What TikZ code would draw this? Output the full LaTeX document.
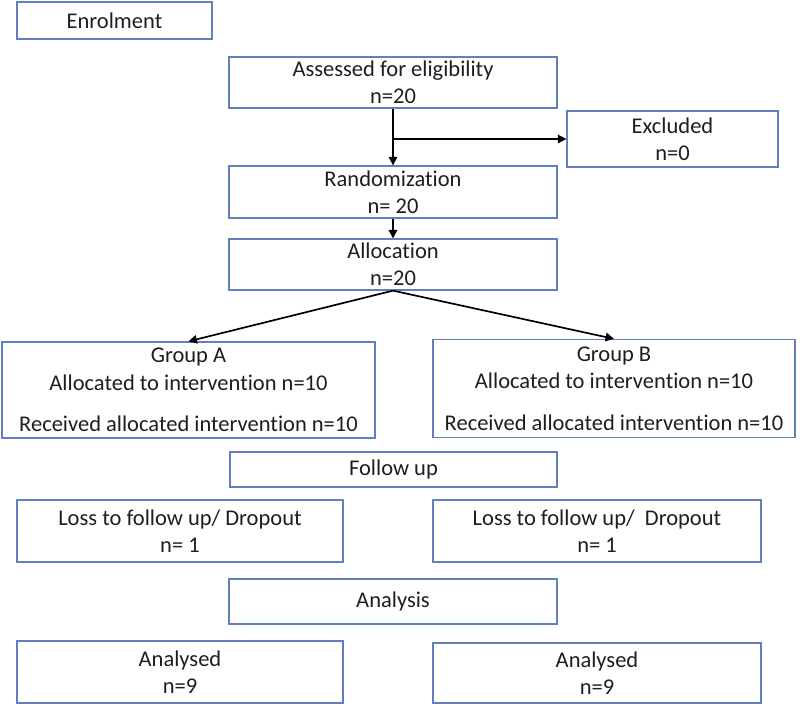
\documentclass[tikz,border=0pt]{standalone}
\usepackage{fontspec}
\setmainfont{Carlito}[Ligatures=NoCommon]
\usetikzlibrary{arrows.meta,positioning}
\definecolor{boxblue}{RGB}{98,128,190}
\definecolor{txtgray}{RGB}{30,30,30}
\tikzset{
	stage/.style={draw=boxblue,line width=0.9pt,align=center,inner sep=0pt,
		text=txtgray,font=\fontsize{16}{19.5}\selectfont},
	flow/.style={line width=1.2pt,-{Triangle[length=6pt,width=6pt]}}
}

\begin{document}
\begin{tikzpicture}[x=0.025cm,y=-0.025cm]
					\useasboundingbox (0,0) rectangle (800,705);
					
					%TOP
					\node[stage,minimum width=4.875cm,minimum height=0.925cm] (enrol) at (114.5,20.5) {Enrolment};
					\node[stage,minimum width=8.2cm,minimum height=1.275cm] (assess) at (393,82.5) {Assessed for eligibility\\n=20};
					\node[stage,minimum width=5.275cm,minimum height=1.4cm] (excl) at (672.5,139) {Excluded\\n=0};
					\node[stage,minimum width=8.2cm,minimum height=1.3cm] (rand) at (393,192) {Randomization\\n= 20};
					\node[stage,minimum width=8.2cm,minimum height=1.275cm] (alloc) at (393,264.5) {Allocation\\n=20};
					%GROUPS
					\node[stage,minimum width=9.325cm,minimum height=2.4cm] (grpA) at (188.5,390) {Group A\\Allocated to intervention n=10\\[10pt]Received allocated intervention n=10};
					\node[stage,minimum width=9.05cm,minimum height=2.45cm] (grpB) at (614,388.5) {Group B\\Allocated to intervention n=10\\[10pt]Received allocated intervention n=10};
					%FOLLOW UP
					\node[stage,minimum width=8.175cm,minimum height=0.875cm] (follow) at (393.5,469.5) {Follow up};
					\node[stage,minimum width=8.15cm,minimum height=1.55cm] (lossA) at (180,531) {Loss to follow up/ Dropout\\n= 1};
					\node[stage,minimum width=8.2cm,minimum height=1.55cm] (lossB) at (597,531) {Loss to follow up/~ Dropout\\n= 1};
					%ANALYSIS
					\node[stage,minimum width=8.2cm,minimum height=1.125cm] (analysis) at (393,601.5) {Analysis};
					\node[stage,minimum width=8.15cm,minimum height=1.55cm] (anA) at (180,672) {Analysed\\n=9};
					\node[stage,minimum width=8.2cm,minimum height=1.5cm] (anB) at (597,673) {Analysed\\n=9};
					
					%ARROWS
					\coordinate (br) at (assess.south |- excl.west);
					\draw[flow] (assess) -- (rand);
					\draw[flow] (br) -- (excl.west);
					\draw[flow] (rand) -- (alloc);
					\draw[flow] (alloc.south) -- (grpA.north);
					\draw[flow] (alloc.south) -- (grpB.north);
					
				  \end{tikzpicture}
\end{document}
